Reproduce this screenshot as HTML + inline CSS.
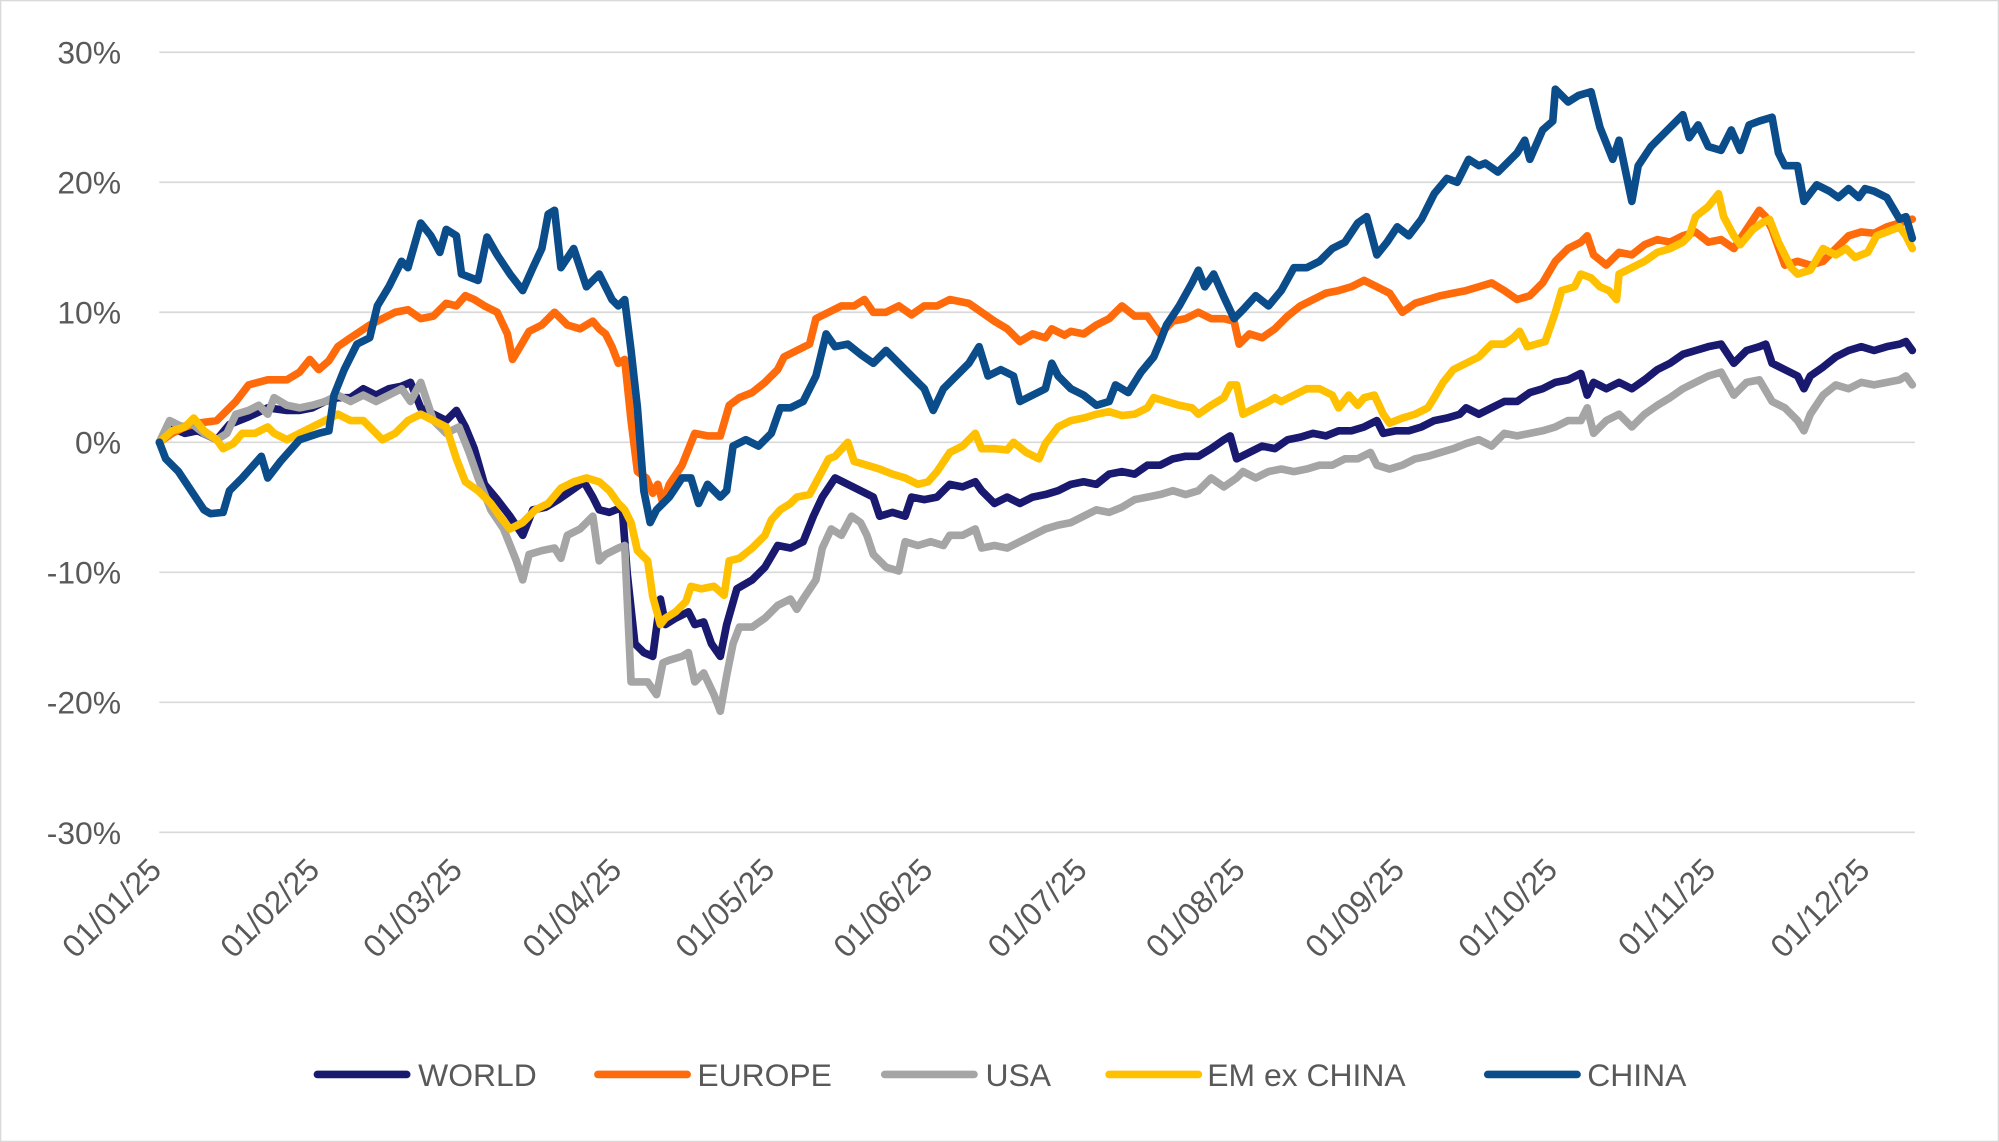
<!DOCTYPE html>
<html><head><meta charset="utf-8"><style>
html,body{margin:0;padding:0;background:#fff}
svg{display:block}
text{font-family:"Liberation Sans",sans-serif;fill:#595959}
</style></head><body>
<svg width="1999" height="1142" viewBox="0 0 1568 896" preserveAspectRatio="none" xmlns="http://www.w3.org/2000/svg">
<rect x="0.5" y="0.5" width="1567" height="895" fill="#fff" stroke="#d9d9d9"/>
<g stroke="#d9d9d9" stroke-width="1.3">
<line x1="125" y1="41" x2="1502" y2="41"/><line x1="125" y1="143" x2="1502" y2="143"/>
<line x1="125" y1="245" x2="1502" y2="245"/><line x1="125" y1="347" x2="1502" y2="347"/>
<line x1="125" y1="449" x2="1502" y2="449"/><line x1="125" y1="551" x2="1502" y2="551"/>
<line x1="125" y1="653" x2="1502" y2="653"/>
</g>
<g font-size="25" text-anchor="end">
<text x="95" y="50">30%</text><text x="95" y="152">20%</text><text x="95" y="254">10%</text>
<text x="95" y="356">0%</text><text x="95" y="458">-10%</text><text x="95" y="560">-20%</text><text x="95" y="662">-30%</text>
</g>
<g font-size="25" text-anchor="end">
<text transform="translate(128,684) rotate(-45)">01/01/25</text>
<text transform="translate(252,684) rotate(-45)">01/02/25</text>
<text transform="translate(364,684) rotate(-45)">01/03/25</text>
<text transform="translate(489,684) rotate(-45)">01/04/25</text>
<text transform="translate(609,684) rotate(-45)">01/05/25</text>
<text transform="translate(733,684) rotate(-45)">01/06/25</text>
<text transform="translate(854,684) rotate(-45)">01/07/25</text>
<text transform="translate(978,684) rotate(-45)">01/08/25</text>
<text transform="translate(1103,684) rotate(-45)">01/09/25</text>
<text transform="translate(1223,684) rotate(-45)">01/10/25</text>
<text transform="translate(1347,684) rotate(-45)">01/11/25</text>
<text transform="translate(1468,684) rotate(-45)">01/12/25</text>
</g>
<g fill="none" stroke-width="6" stroke-linejoin="round" stroke-linecap="round">
<polyline stroke="#191970" points="125,347 133,335 145,340 155,338 170,345 180,333 195,327 210,320 225,322 235,322 245,320 255,315 265,312 275,312 285,305 295,310 305,305 315,303 322,300 330,320 340,325 350,330 358,322 365,335 372,352 380,380 390,392 400,405 410,420 418,400 428,398 438,392 448,385 458,378 465,390 470,400 478,402 488,398 492,450 498,505 505,512 512,515 518,470 522,490 530,485 540,480 545,490 552,488 558,505 565,515 570,490 578,462 590,455 600,445 610,428 620,430 630,425 638,405 645,390 655,375 665,380 675,385 685,390 690,405 700,402 710,405 715,390 725,392 735,390 745,380 755,382 765,378 770,385 780,395 790,390 800,395 810,390 820,388 830,385 840,380 850,378 860,380 870,372 880,370 890,372 900,365 910,365 920,360 930,358 940,358 950,352 960,345 965,342 970,360 980,355 990,350 1000,352 1010,345 1020,343 1030,340 1040,342 1050,338 1060,338 1070,335 1080,330 1085,340 1095,338 1105,338 1115,335 1125,330 1135,328 1145,325 1150,320 1160,325 1170,320 1180,315 1190,315 1200,308 1210,305 1220,300 1230,298 1240,293 1245,310 1250,300 1260,305 1270,300 1280,305 1290,298 1300,290 1310,285 1320,278 1330,275 1340,272 1350,270 1360,285 1370,275 1380,272 1385,270 1390,285 1400,290 1410,295 1415,305 1420,295 1430,288 1440,280 1450,275 1460,272 1470,275 1480,272 1490,270 1495,268 1500,275"/>
<polyline stroke="#FF6A0A" points="125,347 135,340 145,335 155,332 170,330 185,315 195,302 210,298 225,298 235,292 243,282 250,290 258,283 265,272 275,265 290,255 300,250 310,245 320,243 330,250 340,248 350,238 358,240 365,232 372,235 380,240 390,245 398,262 402,282 408,272 415,260 425,255 435,245 445,255 455,258 465,252 470,258 475,262 480,272 485,285 490,282 495,330 500,370 507,375 512,387 516,380 520,395 525,380 535,365 545,340 555,342 565,342 572,318 580,312 590,308 600,300 610,290 615,280 625,275 635,270 640,250 650,245 660,240 670,240 678,235 685,245 695,245 705,240 715,247 725,240 735,240 745,235 760,238 770,245 780,252 790,258 800,268 810,262 820,265 825,258 835,263 840,260 850,262 860,255 870,250 880,240 890,248 900,248 910,262 920,252 930,250 940,245 950,250 960,250 968,252 972,270 980,262 990,265 1000,258 1010,248 1020,240 1030,235 1040,230 1050,228 1060,225 1070,220 1080,225 1090,230 1100,245 1110,238 1120,235 1130,232 1140,230 1150,228 1160,225 1170,222 1180,228 1190,235 1200,232 1210,222 1220,205 1230,195 1240,190 1245,185 1250,200 1260,208 1270,198 1280,200 1290,192 1300,188 1310,190 1320,185 1330,182 1340,190 1350,188 1360,195 1370,180 1380,165 1385,170 1390,180 1400,208 1410,205 1420,208 1430,205 1440,195 1450,185 1460,182 1470,183 1480,178 1490,175 1500,172"/>
<polyline stroke="#A5A5A5" points="125,347 133,330 143,335 150,332 160,340 170,345 178,340 185,325 195,322 203,318 210,325 215,312 225,318 235,320 245,318 255,315 265,310 275,315 285,310 295,315 305,310 315,305 322,315 330,300 340,330 350,340 360,335 368,355 375,375 385,400 395,415 405,440 410,455 415,435 425,432 435,430 440,438 445,420 455,415 465,405 470,440 475,435 485,430 490,428 495,535 500,535 508,535 515,545 520,520 525,518 535,515 540,512 545,535 552,528 560,545 565,558 570,530 575,505 580,492 590,492 600,485 610,475 620,470 625,478 630,470 640,455 645,430 652,415 660,420 668,405 675,410 680,420 685,435 695,445 705,448 710,425 720,428 730,425 740,428 745,420 755,420 765,415 770,430 780,428 790,430 800,425 810,420 820,415 830,412 840,410 850,405 860,400 870,402 880,398 890,392 900,390 910,388 920,385 930,388 940,385 950,375 960,382 970,375 975,370 985,375 995,370 1005,368 1015,370 1025,368 1035,365 1045,365 1055,360 1065,360 1075,355 1080,365 1090,368 1100,365 1110,360 1120,358 1130,355 1140,352 1150,348 1160,345 1170,350 1180,340 1190,342 1200,340 1210,338 1220,335 1230,330 1240,330 1245,320 1250,340 1260,330 1270,325 1280,335 1290,325 1300,318 1310,312 1320,305 1330,300 1340,295 1350,292 1360,310 1370,300 1380,298 1390,315 1400,320 1410,330 1415,338 1420,325 1430,310 1440,302 1450,305 1460,300 1470,302 1480,300 1490,298 1495,295 1500,302"/>
<polyline stroke="#FFC000" points="125,347 135,338 145,335 152,328 160,338 170,345 175,352 183,348 190,340 200,340 210,335 215,340 225,345 235,340 245,335 255,330 265,325 275,330 285,330 290,335 300,345 310,340 320,330 330,325 340,330 350,335 358,360 365,378 375,385 385,395 392,405 400,415 410,410 420,400 430,395 440,383 450,378 460,375 470,378 478,385 485,395 490,400 495,410 500,432 508,440 512,468 518,490 522,485 530,480 538,472 542,460 550,462 560,460 568,467 572,440 580,438 590,430 600,420 605,408 612,400 620,395 625,390 635,388 642,375 650,360 655,358 665,347 670,362 680,365 690,368 700,372 710,375 720,380 728,378 735,370 745,355 755,350 765,340 770,352 780,352 790,353 795,347 805,355 815,360 820,348 830,335 840,330 850,328 860,325 870,323 880,326 890,325 900,320 905,312 915,315 925,318 935,320 940,325 950,318 960,312 965,302 970,302 975,325 985,320 995,315 1000,312 1005,315 1015,310 1025,305 1035,305 1045,310 1050,320 1058,310 1065,318 1070,312 1078,310 1085,325 1090,332 1100,328 1110,325 1120,320 1125,312 1132,300 1140,290 1150,285 1160,280 1170,270 1180,270 1187,265 1192,260 1198,272 1205,270 1212,268 1220,245 1225,228 1235,225 1240,215 1248,218 1255,225 1262,228 1268,235 1270,215 1280,210 1290,205 1300,198 1310,195 1320,190 1325,185 1330,170 1340,162 1348,152 1352,170 1360,185 1365,192 1375,180 1382,175 1388,172 1395,190 1400,200 1405,210 1410,215 1420,212 1430,195 1440,200 1448,195 1455,202 1465,198 1472,185 1480,182 1490,178 1495,185 1500,195"/>
<polyline stroke="#0B4C8A" points="125,347 130,360 140,370 150,385 160,400 165,403 175,402 180,385 190,375 205,358 210,375 220,362 235,345 250,340 258,338 262,310 270,290 280,270 290,265 296,240 305,225 315,205 320,210 330,175 338,185 345,198 350,180 358,185 362,215 375,220 382,186 390,200 400,215 410,228 418,210 425,195 430,168 435,165 440,210 450,195 460,225 470,215 480,235 485,240 490,235 495,275 500,320 505,385 510,410 515,400 525,390 535,375 542,375 548,395 555,380 565,390 570,385 575,350 585,345 595,350 605,340 612,320 620,320 630,315 640,295 648,262 655,272 665,270 675,278 685,285 695,275 705,285 715,295 725,305 732,322 740,305 750,295 760,285 768,272 775,295 785,290 795,295 800,315 810,310 820,305 825,285 830,295 840,305 850,310 860,318 870,315 875,302 885,308 895,292 905,280 910,268 915,255 925,240 935,222 940,212 945,225 952,215 960,233 968,250 975,243 985,232 995,240 1005,228 1015,210 1025,210 1035,205 1045,195 1055,190 1065,175 1072,170 1080,200 1088,190 1096,178 1105,185 1115,172 1125,152 1135,140 1143,143 1152,125 1160,130 1165,128 1175,135 1182,128 1190,120 1196,110 1200,125 1210,102 1218,95 1220,70 1230,80 1238,75 1248,72 1255,100 1265,125 1270,110 1280,158 1285,130 1295,115 1305,105 1315,95 1320,90 1325,108 1332,98 1340,115 1350,118 1358,102 1365,118 1372,98 1380,95 1390,92 1395,120 1400,130 1410,130 1415,158 1425,145 1435,150 1442,155 1450,148 1458,155 1463,148 1470,150 1480,155 1490,172 1495,170 1500,187"/>
</g>
<g stroke-width="6" stroke-linecap="round">
<line x1="249" y1="843" x2="319" y2="843" stroke="#191970"/>
<line x1="469" y1="843" x2="539" y2="843" stroke="#FF6A0A"/>
<line x1="694" y1="843" x2="764" y2="843" stroke="#A5A5A5"/>
<line x1="870" y1="843" x2="940" y2="843" stroke="#FFC000"/>
<line x1="1167" y1="843" x2="1237" y2="843" stroke="#0B4C8A"/>
</g>
<g font-size="25">
<text x="328" y="852">WORLD</text><text x="547" y="852">EUROPE</text><text x="773" y="852">USA</text>
<text x="947" y="852">EM ex CHINA</text><text x="1245" y="852">CHINA</text>
</g>
</svg>
</body></html>
